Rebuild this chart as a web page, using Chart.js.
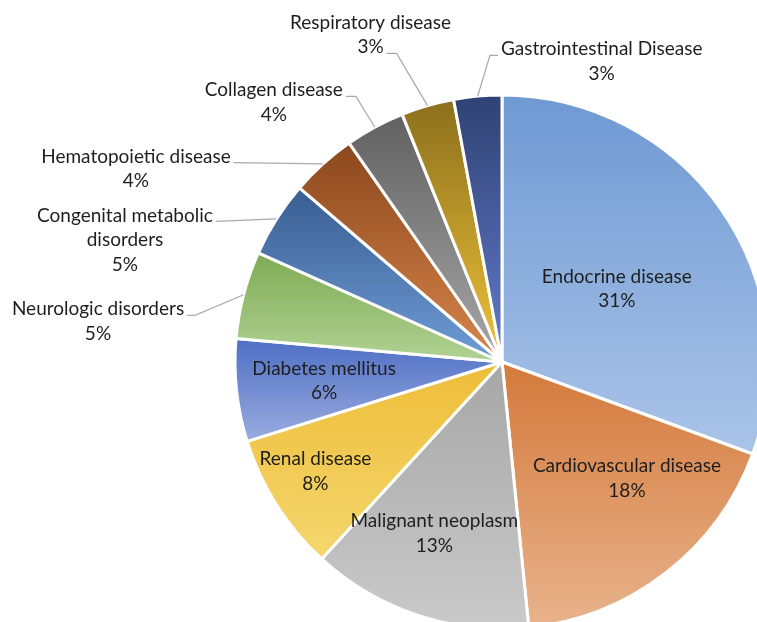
<!DOCTYPE html>
<html>
<head>
<meta charset="utf-8">
<script src="https://cdn.jsdelivr.net/npm/chart.js@4.4.1/dist/chart.umd.min.js"></script>
<style>
html, body { margin: 0; padding: 0; background: #fff; overflow: hidden; }
#wrap { width: 757px; height: 622px; overflow: hidden; }
canvas { display: block; }
</style>
</head>
<body>
<div id="wrap"><canvas id="diseasePie" width="800" height="660"></canvas></div>
<script>
// data
var categories = ['Endocrine disease', 'Cardiovascular disease', 'Malignant neoplasm', 'Renal disease',
  'Diabetes mellitus', 'Neurologic disorders', 'Congenital metabolic disorders', 'Hematopoietic disease',
  'Collagen disease', 'Respiratory disease', 'Gastrointestinal Disease'];
var shares = [30.6, 17.8, 13.4, 8.4, 6.2, 5.3, 4.6, 4.0, 3.6, 3.2, 2.9];

// gradient colours, top of slice -> bottom of slice
var topColors = ['#6f99d3', '#d4793b', '#a6a6a6', '#eebd38', '#4e6fc5', '#7eab53',
  '#395d91', '#8b471c', '#616161', '#8b6f1c', '#2f4274'];
var bottomColors = ['#aac4e8', '#e8b38c', '#cacaca', '#f4d76e', '#9aabdf', '#b2d295',
  '#6f9dd6', '#d8864c', '#a7a7a7', '#f0c33a', '#637bca'];

// label placement: inside = fraction of radius (+ angle shift in degrees),
// otherwise offset of the text block from the slice's outer edge
var labelPlaces = [
  { inside: 0.51, shift: 2.4 }, { inside: 0.64, shift: -9.2 }, { inside: 0.69, shift: 3.2 },
  { inside: 0.81, shift: 2.0 }, { inside: 0.67, shift: 0.1 },
  { dx: -145.6, dy: 26.8, line: 0, side: 'right', stub: 8 },
  { dx: -151.6, dy: 21, line: 0, side: 'right', stub: 0 },
  { dx: -187, dy: 5, line: 0, side: 'right', stub: 0 },
  { dx: -101, dy: -24.6, line: 0, side: 'right', stub: 10 },
  { dx: -57, dy: -70.5, line: 1, side: 'right', stub: 10 },
  { dx: 124, dy: -34.5, line: 0, side: 'left', stub: 8 }
];

var FONT = '19px Lato';
var LINE_H = 24.5;
var BORDER = 3;
var total = shares.reduce(function (a, b) { return a + b; }, 0);

function sliceFill(context) {
  var chart = context.chart, area = chart.chartArea, i = context.dataIndex;
  if (!area) return topColors[i];
  var before = 0;
  for (var k = 0; k < i; k++) before += shares[k];
  var a0 = -Math.PI / 2 + 2 * Math.PI * before / total;
  var a1 = a0 + 2 * Math.PI * shares[i] / total;
  var cy = (area.top + area.bottom) / 2;
  var r = (Math.min(area.right - area.left, area.bottom - area.top) - BORDER) / 2;
  var ys = [cy, cy + r * Math.sin(a0), cy + r * Math.sin(a1)];
  [Math.PI / 2, 3 * Math.PI / 2].forEach(function (a) {
    if (a > a0 && a < a1) ys.push(cy + r * Math.sin(a));
  });
  var g = chart.ctx.createLinearGradient(0, Math.min.apply(null, ys), 0, Math.max.apply(null, ys));
  g.addColorStop(0, topColors[i]);
  g.addColorStop(1, bottomColors[i]);
  return g;
}

function wrapLabel(ctx, text, maxW) {
  var words = text.split(' '), lines = [], cur = '';
  words.forEach(function (w) {
    var t = cur ? cur + ' ' + w : w;
    if (cur && ctx.measureText(t).width > maxW) { lines.push(cur); cur = w; } else cur = t;
  });
  lines.push(cur);
  return lines;
}

var pieLabels = {
  id: 'pieLabels',
  afterDatasetsDraw: function (chart) {
    var ctx = chart.ctx;
    var arcs = chart.getDatasetMeta(0).data;
    ctx.save();
    ctx.font = FONT;
    ctx.textAlign = 'center';
    ctx.textBaseline = 'middle';
    arcs.forEach(function (arc, i) {
      var p = arc.getProps(['x', 'y', 'startAngle', 'endAngle', 'outerRadius'], true);
      var mid = (p.startAngle + p.endAngle) / 2;
      var lines = wrapLabel(ctx, categories[i], 215).concat([Math.round(shares[i] / total * 100) + '%']);
      var place = labelPlaces[i];
      var cx, cy, ax, ay;
      if (place.inside) {
        var a = mid + place.shift * Math.PI / 180;
        cx = p.x + Math.cos(a) * p.outerRadius * place.inside;
        cy = p.y + Math.sin(a) * p.outerRadius * place.inside;
      } else {
        ax = p.x + Math.cos(mid) * p.outerRadius;
        ay = p.y + Math.sin(mid) * p.outerRadius;
        cx = ax + place.dx;
        cy = ay + place.dy;
      }
      var top = cy - (lines.length - 1) * LINE_H / 2;
      ctx.fillStyle = '#1e1e1e';
      lines.forEach(function (t, k) { ctx.fillText(t, cx, top + k * LINE_H); });
      if (!place.inside) {
        var w = ctx.measureText(lines[place.line]).width;
        var dir = place.side === 'right' ? 1 : -1;
        var sx = cx + dir * (w / 2 + 3);
        var sy = top + place.line * LINE_H + 6;
        ctx.beginPath();
        ctx.moveTo(sx, sy);
        ctx.lineTo(sx + dir * place.stub, sy);
        ctx.lineTo(ax, ay);
        ctx.strokeStyle = '#aaaaaa';
        ctx.lineWidth = 1.25;
        ctx.stroke();
      }
    });
    ctx.restore();
  }
};

new Chart(document.getElementById('diseasePie'), {
  type: 'pie',
  data: {
    labels: categories,
    datasets: [{
      data: shares,
      backgroundColor: sliceFill,
      borderColor: '#ffffff',
      borderWidth: BORDER
    }]
  },
  options: {
    responsive: false,
    animation: false,
    devicePixelRatio: 1,
    events: [],
    layout: { padding: { left: 233.5, top: 93.5, right: 29.5, bottom: 29.5 } },
    plugins: {
      legend: { display: false },
      tooltip: { enabled: false }
    }
  },
  plugins: [pieLabels]
});
</script>
</body>
</html>
